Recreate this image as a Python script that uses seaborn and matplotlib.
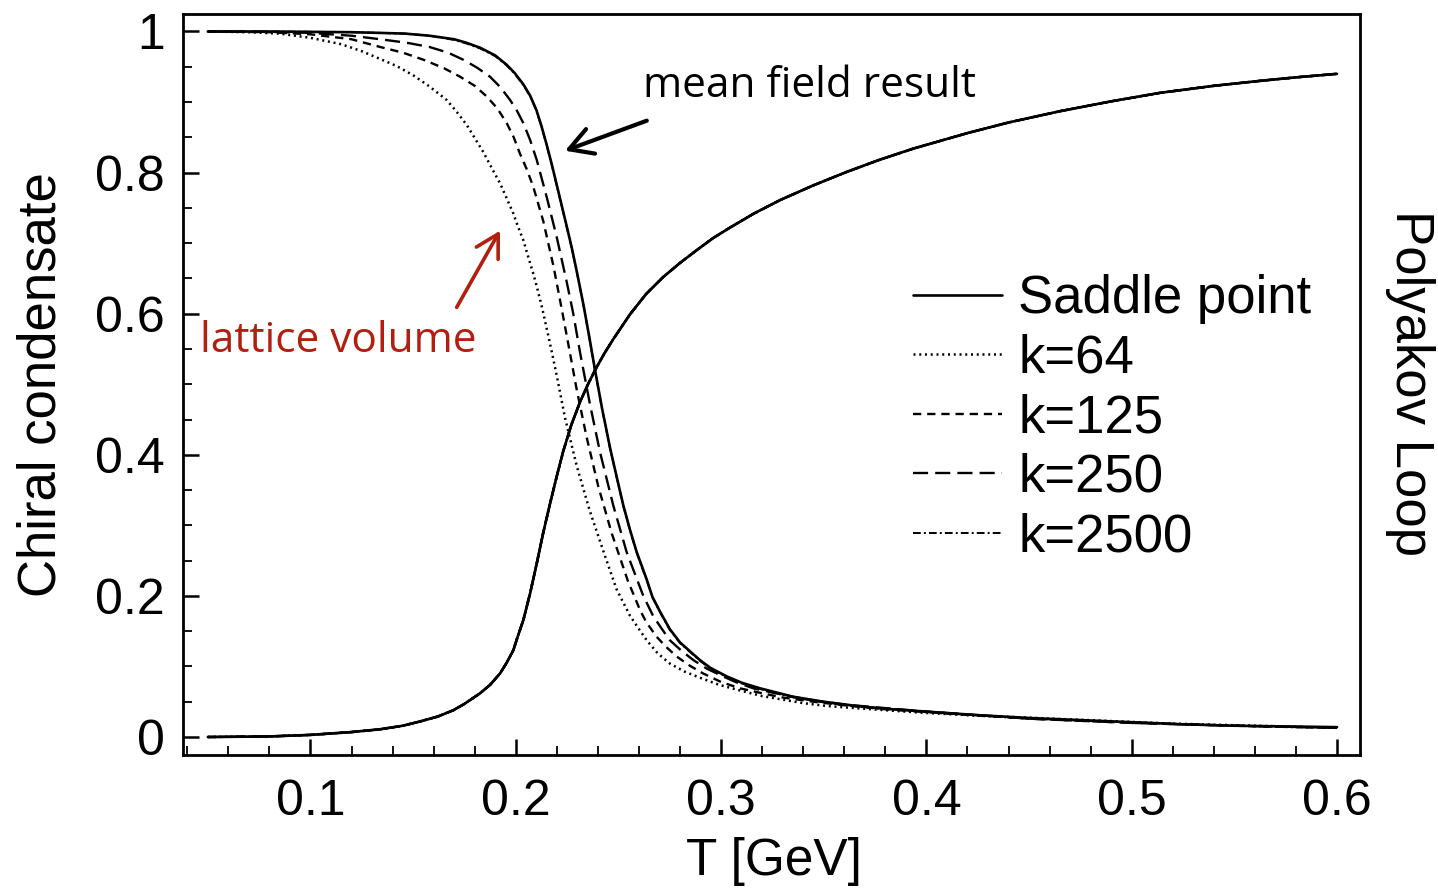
import matplotlib
matplotlib.use("Agg")
import matplotlib.pyplot as plt
import seaborn as sns
from matplotlib.ticker import MultipleLocator, FixedLocator, FuncFormatter

sns.set_style("ticks")
plt.rcParams["font.family"] = ["Liberation Sans", "DejaVu Sans"]
plt.rcParams["text.color"] = "black"
plt.rcParams["axes.labelcolor"] = "black"
plt.rcParams["xtick.color"] = "black"
plt.rcParams["ytick.color"] = "black"

# Chiral condensate vs temperature: saddle point and finite-k ensembles
T_saddle = [0.05, 0.08, 0.10, 0.12, 0.134, 0.146, 0.158, 0.170, 0.176, 0.1826,
            0.186, 0.190, 0.1955, 0.1995, 0.2037, 0.207, 0.210, 0.2125, 0.215,
            0.2175, 0.220, 0.2248, 0.2273, 0.2297, 0.2330, 0.2358, 0.2386, 0.2420,
            0.2459, 0.2492, 0.2524, 0.2556, 0.2589, 0.2638, 0.2665, 0.2702, 0.275,
            0.280, 0.2897, 0.2948, 0.3027, 0.31, 0.319, 0.3352, 0.35, 0.366, 0.38,
            0.40, 0.425, 0.45, 0.475, 0.50, 0.525, 0.55, 0.575, 0.60]
chi_saddle = [1.0, 1.0, 0.9995, 0.999, 0.998, 0.997, 0.994, 0.989, 0.984, 0.977,
              0.972, 0.966, 0.953, 0.941, 0.925, 0.909, 0.889, 0.866, 0.840,
              0.812, 0.782, 0.724, 0.693, 0.660, 0.612, 0.567, 0.520, 0.466,
              0.410, 0.368, 0.328, 0.294, 0.262, 0.223, 0.199, 0.178, 0.153,
              0.134, 0.109, 0.098, 0.086, 0.077, 0.069, 0.057, 0.050, 0.044, 0.040,
              0.036, 0.031, 0.027, 0.024, 0.021, 0.018, 0.016, 0.015, 0.014]

T_k64 = [0.05, 0.07, 0.085, 0.10, 0.115, 0.125, 0.134, 0.142, 0.150, 0.158,
         0.1663, 0.171, 0.176, 0.180, 0.1842, 0.188, 0.1923, 0.1955, 0.1988,
         0.201, 0.2037, 0.206, 0.2085, 0.2108, 0.2130, 0.2165, 0.2199, 0.224,
         0.2297, 0.2361, 0.2434, 0.249, 0.2556, 0.260, 0.2638, 0.269, 0.2751,
         0.282, 0.2897, 0.299, 0.3092, 0.32, 0.332, 0.34, 0.3514, 0.365, 0.38,
         0.40, 0.42, 0.47, 0.52, 0.56, 0.60]
chi_k64 = [1.0, 0.999, 0.997, 0.991, 0.982, 0.972, 0.961, 0.951, 0.938, 0.922,
           0.903, 0.887, 0.868, 0.849, 0.829, 0.808, 0.785, 0.764, 0.742,
           0.724, 0.704, 0.681, 0.657, 0.632, 0.606, 0.560, 0.513, 0.452,
           0.384, 0.320, 0.257, 0.210, 0.172, 0.153, 0.137, 0.119, 0.104,
           0.093, 0.084, 0.074, 0.066, 0.058, 0.052, 0.048, 0.044, 0.041, 0.038,
           0.034, 0.031, 0.025, 0.019, 0.016, 0.013]

T_k125 = [0.05, 0.08, 0.10, 0.12, 0.134, 0.145, 0.155, 0.165, 0.1728, 0.180,
          0.1858, 0.191, 0.1956, 0.199, 0.202, 0.2053, 0.2085, 0.2134, 0.2183,
          0.2215, 0.2250, 0.2297, 0.2345, 0.2402, 0.2467, 0.2545, 0.2605, 0.2635,
          0.2686, 0.2735, 0.2784, 0.2848, 0.2913, 0.30, 0.3092, 0.32, 0.33, 0.345,
          0.36, 0.40, 0.45, 0.50, 0.55, 0.60]
chi_k125 = [1.0, 0.999, 0.996, 0.989, 0.978, 0.970, 0.960, 0.948, 0.936, 0.923,
            0.908, 0.891, 0.870, 0.850, 0.827, 0.805, 0.780, 0.731, 0.668,
            0.620, 0.566, 0.492, 0.425, 0.355, 0.289, 0.222, 0.180, 0.163,
            0.142, 0.127, 0.114, 0.101, 0.090, 0.078, 0.069, 0.062, 0.056, 0.050,
            0.045, 0.036, 0.026, 0.020, 0.016, 0.013]

T_k250 = [0.05, 0.08, 0.10, 0.12, 0.134, 0.147, 0.158, 0.167, 0.1744, 0.181,
          0.1874, 0.1925, 0.1972, 0.2005, 0.2037, 0.207, 0.2102, 0.2125, 0.215,
          0.2199, 0.2248, 0.2280, 0.2313, 0.2361, 0.241, 0.2475, 0.254, 0.2621,
          0.267, 0.2712, 0.2751, 0.2808, 0.2865, 0.293, 0.2994, 0.307, 0.3157,
          0.325, 0.335, 0.347, 0.36, 0.40, 0.45, 0.50, 0.55, 0.60]
chi_k250 = [1.0, 0.9995, 0.998, 0.994, 0.989, 0.984, 0.978, 0.970, 0.960, 0.949,
            0.936, 0.921, 0.903, 0.888, 0.870, 0.846, 0.818, 0.793, 0.766,
            0.709, 0.645, 0.600, 0.545, 0.472, 0.404, 0.328, 0.262, 0.200,
            0.171, 0.153, 0.137, 0.122, 0.109, 0.097, 0.088, 0.078, 0.069,
            0.063, 0.057, 0.051, 0.046, 0.036, 0.026, 0.020, 0.016, 0.013]

T_k2500 = T_saddle
chi_k2500 = [1.0, 1.0, 0.9995, 0.999, 0.998, 0.997, 0.994, 0.988, 0.983, 0.976,
             0.971, 0.965, 0.952, 0.940, 0.924, 0.908, 0.888, 0.865, 0.839,
             0.811, 0.781, 0.723, 0.692, 0.659, 0.611, 0.566, 0.519, 0.465,
             0.409, 0.367, 0.327, 0.293, 0.261, 0.222, 0.198, 0.177, 0.152,
             0.133, 0.108, 0.097, 0.085, 0.076, 0.068, 0.056, 0.049, 0.043, 0.039,
             0.035, 0.030, 0.026, 0.023, 0.021, 0.018, 0.016, 0.014, 0.013]

# Polyakov loop (all ensembles coincide with the saddle point)
T_poly = [0.05, 0.08, 0.10, 0.12, 0.134, 0.145, 0.1533, 0.162, 0.1696, 0.175,
          0.1826, 0.1875, 0.1923, 0.1955, 0.1988, 0.201, 0.2037, 0.207, 0.2102,
          0.2134, 0.2167, 0.2199, 0.2231, 0.2270, 0.2313, 0.235, 0.2386, 0.243,
          0.2475, 0.2556, 0.2635, 0.2718, 0.28, 0.2881, 0.296, 0.3043, 0.316,
          0.3287, 0.345, 0.3612, 0.377, 0.3936, 0.42, 0.44, 0.465, 0.49, 0.5137,
          0.54, 0.5624, 0.58, 0.60]
poly = [0.0, 0.0008, 0.003, 0.007, 0.011, 0.016, 0.022, 0.029, 0.038, 0.047,
        0.062, 0.074, 0.090, 0.105, 0.123, 0.143, 0.166, 0.204, 0.246,
        0.290, 0.331, 0.369, 0.405, 0.442, 0.475, 0.499, 0.520, 0.543,
        0.564, 0.599, 0.628, 0.652, 0.672, 0.690, 0.707, 0.722, 0.742,
        0.761, 0.782, 0.801, 0.818, 0.834, 0.856, 0.871, 0.887, 0.901, 0.913,
        0.923, 0.930, 0.935, 0.940]

series_labels = ["Saddle point", "k=64", "k=125", "k=250", "k=2500"]
series_T = [T_saddle, T_k64, T_k125, T_k250, T_k2500]
series_chi = [chi_saddle, chi_k64, chi_k125, chi_k250, chi_k2500]
series_styles = ["-", (0, (0.8, 1.5)), (0, (3.5, 2.5)), (0, (6.4, 3.0)),
                 (0, (4.0, 1.6, 1.0, 1.6))]
series_lw = [1.9, 1.8, 1.7, 1.7, 1.4]

x_ticks = [0.1, 0.2, 0.3, 0.4, 0.5, 0.6]
y_ticks = [0, 0.2, 0.4, 0.6, 0.8, 1]

W, H = 1438, 891
fig = plt.figure(figsize=(W / 100, H / 100), dpi=100)
ax = fig.add_axes([183 / W, 1 - 755 / H, (1360 - 183) / W, (755 - 14) / H])

draw_order = [1, 2, 3, 4, 0]
lines = {}
for i in draw_order:
    sns.lineplot(x=series_T[i], y=series_chi[i], ax=ax, color="black",
                 linestyle=series_styles[i], lw=series_lw[i], sort=False)
    lines[i] = ax.lines[-1]
    sns.lineplot(x=T_poly, y=poly, ax=ax, color="black",
                 linestyle=series_styles[i], lw=series_lw[i], sort=False)

ax.set_xlim(0.0379, 0.6112)
ax.set_ylim(-0.0255, 1.0248)

ax.xaxis.set_major_locator(FixedLocator(x_ticks))
ax.xaxis.set_minor_locator(MultipleLocator(0.02))
ax.yaxis.set_major_locator(FixedLocator(y_ticks))
ax.yaxis.set_minor_locator(MultipleLocator(0.05))
ax.xaxis.set_major_formatter(FuncFormatter(lambda v, p: f"{v:g}"))
ax.yaxis.set_major_formatter(FuncFormatter(lambda v, p: f"{v:g}"))

ax.tick_params(which="both", direction="in", top=False, right=False,
               colors="black", labelcolor="black")
ax.tick_params(which="major", length=11.5, width=1.8, labelsize=36)
ax.tick_params(axis="y", which="major", pad=13)
ax.tick_params(axis="x", which="major", pad=17)
ax.tick_params(which="minor", length=6.5, width=1.3)
for s in ax.spines.values():
    s.set_linewidth(2.0)
    s.set_color("black")
    s.set_visible(True)

ax.set_xlabel("")
ax.set_ylabel("")
fig.text(774 / W, 1 - 862 / H, "T [GeV]", ha="center", va="center",
         fontsize=37, color="black")
fig.text(42 / W, 1 - 385 / H, "Chiral condensate", rotation=90,
         ha="center", va="center", fontsize=38, color="black")
fig.text(1410 / W, 1 - 383 / H, "Polyakov Loop", rotation=270,
         ha="center", va="center", fontsize=38, color="black")

leg = ax.legend([lines[i] for i in range(5)], series_labels,
                loc="upper left", bbox_to_anchor=(0.620, 0.649),
                frameon=False, fontsize=38, handlelength=1.7,
                handletextpad=0.3, labelspacing=0.18, borderpad=0,
                borderaxespad=0)
for t in leg.get_texts():
    t.set_color("black")

red = "#B21E0F"
ax.annotate("", xy=(0.224, 0.831), xytext=(0.2638, 0.8736),
            arrowprops=dict(arrowstyle="->,head_length=1.65,head_width=0.94",
                            lw=3.0, color="black", mutation_scale=10,
                            shrinkA=0, shrinkB=0))
ax.text(0.262, 0.907, "mean field result", fontsize=30.5, family="Open Sans",
        ha="left", va="baseline", color="black")
ax.annotate("", xy=(0.1923, 0.7177), xytext=(0.1712, 0.609),
            arrowprops=dict(arrowstyle="->,head_length=1.6,head_width=0.9",
                            lw=2.6, color=red, mutation_scale=10,
                            shrinkA=0, shrinkB=0))
ax.text(0.0463, 0.546, "lattice volume", fontsize=30.5, family="Open Sans",
        ha="left", va="baseline", color=red)

fig.savefig("out.png", dpi=100)
